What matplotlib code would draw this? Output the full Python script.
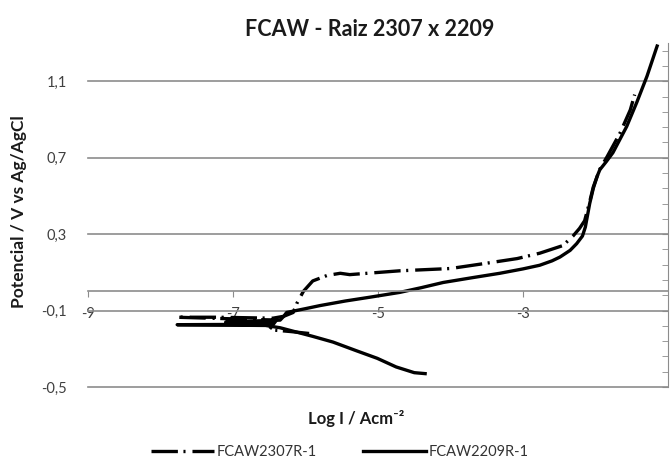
import numpy as np
import matplotlib
matplotlib.use("Agg")
import matplotlib.pyplot as plt
from matplotlib.ticker import FixedLocator, FuncFormatter

plt.rcParams['font.family'] = ['Lato', 'DejaVu Sans']
plt.rcParams['lines.scale_dashes'] = False

# curva FCAW2307R-1 (log I, potencial)
logi_2307 = [-5.95, -6.2, -6.5, -6.4, -7.77, -7.2, -6.45, -6.3, -6.17, -6.12, -6.03,
             -5.9, -5.7, -5.52, -5.39, -5.15, -4.7, -4.0, -3.55, -3.08, -2.77, -2.45,
             -2.31, -2.22, -2.15, -2.08, -2.03, -1.94, -1.84, -1.66, -1.52, -1.46]
pot_2307 = [-0.22, -0.21, -0.2, -0.15, -0.135, -0.135, -0.14, -0.13, -0.11, -0.063, 0.0,
            0.055, 0.084, 0.095, 0.088, 0.095, 0.108, 0.12, 0.145, 0.172, 0.2, 0.24,
            0.29, 0.33, 0.37, 0.47, 0.547, 0.64, 0.705, 0.83, 0.95, 1.03]

# curva FCAW2209R-1
logi_2209 = [-4.35, -4.5, -4.75, -5.01, -5.3, -5.62, -5.9, -6.1, -6.35, -6.55, -7.77,
             -6.6, -6.45, -7.1, -6.35, -6.3, -6.26, -6.0, -5.8, -5.45, -5.11, -4.7,
             -4.4, -4.1, -3.7, -3.32, -3.0, -2.77, -2.6, -2.49, -2.35, -2.26, -2.18,
             -2.14, -2.08, -2.03, -1.98, -1.94, -1.85, -1.76, -1.57, -1.43, -1.29, -1.15]
pot_2209 = [-0.43, -0.425, -0.395, -0.35, -0.31, -0.265, -0.235, -0.215, -0.19, -0.178, -0.174,
            -0.172, -0.165, -0.16, -0.15, -0.13, -0.11, -0.09, -0.074, -0.05, -0.03, -0.005,
            0.02, 0.047, 0.072, 0.095, 0.118, 0.137, 0.16, 0.18, 0.215, 0.25, 0.29,
            0.337, 0.46, 0.54, 0.6, 0.637, 0.68, 0.726, 0.863, 0.99, 1.126, 1.284]

xticks = [-9, -7, -5, -3]
yticks = [-0.5, -0.1, 0.3, 0.7, 1.1]

fig = plt.figure(figsize=(6.7, 4.63), dpi=100)
ax = fig.add_axes([88/670, 1 - 387/463, 580/670, 344/463])

ax.plot(logi_2307, pot_2307, color='black', lw=2.4, dashes=(19, 4, 1.5, 5),
        label='FCAW2307R-1')
ax.plot(logi_2209, pot_2209, color='black', lw=2.4, label='FCAW2209R-1')

ax.set_xlim(-9, -1)
ax.set_ylim(-0.5, 1.3)

ax.spines['left'].set_visible(False)
ax.spines['top'].set_visible(False)
ax.spines['right'].set_color('#8c8c8c')
ax.spines['bottom'].set_position(('data', 0))
ax.spines['bottom'].set_color('#8c8c8c')
ax.spines['bottom'].set_linewidth(1.2)

ax.set_xticks(xticks)
ax.set_yticks(yticks)
ax.yaxis.set_minor_locator(FixedLocator(np.arange(-0.5, 1.31, 0.08)))
ax.yaxis.set_major_formatter(FuncFormatter(lambda v, p: f"{v:.1f}".replace('.', ',')))
ax.xaxis.set_major_formatter(FuncFormatter(lambda v, p: f"{v:.0f}"))

ax.tick_params(axis='y', which='major', left=False, right=True, labelleft=True,
               direction='in', length=4, color='#8c8c8c', pad=15,
               labelsize=10.5, labelcolor='#404040')
ax.tick_params(axis='y', which='minor', left=False, right=True, direction='in',
               length=4, color='#8c8c8c')
ax.tick_params(axis='x', which='major', direction='out', length=4.5, color='#8c8c8c',
               pad=7, labelsize=10.5, labelcolor='#404040')

ax.grid(axis='y', color='#8c8c8c', lw=1.2)
ax.set_axisbelow(True)
for gl in ax.get_ygridlines():
    gl.set_clip_on(False)

ax.set_ylabel('Potencial / V vs Ag/AgCl', fontsize=12.5, fontweight='bold', color='#1a1a1a')
ax.yaxis.set_label_coords(-0.105, 0.51)
ax.set_xlabel('Log I / Acm⁻²', fontsize=12, fontweight='bold', color='#1a1a1a')
ax.xaxis.set_label_coords(0.462, -0.067)

fig.text(370/670, 1 - 30/463, 'FCAW - Raiz 2307 x 2209', ha='center', va='center',
         fontsize=15.5, fontweight='bold', color='#1a1a1a')

fig.legend(loc='center', bbox_to_anchor=(340/670, 1 - 452/463), ncol=2, frameon=False,
           fontsize=10.5, handlelength=4.3, handletextpad=0.2, columnspacing=3.2,
           labelcolor='#333333')

fig.savefig('out.png', dpi=100)
